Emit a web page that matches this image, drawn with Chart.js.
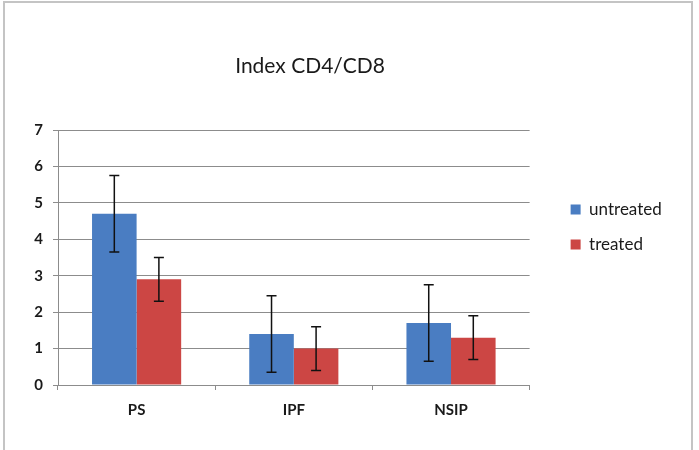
<!DOCTYPE html>
<html>
<head>
<meta charset="utf-8">
<script src="https://cdn.jsdelivr.net/npm/chart.js@4.4.1/dist/chart.umd.min.js"></script>
<style>
  body { margin: 0; background: #fff; }
  #wrap { position: relative; width: 699px; height: 450px; overflow: hidden; }
  #frame {
    position: absolute; left: 3px; top: 1px; width: 690px; height: 470px;
    box-sizing: border-box; border: 2px solid #c4c4c4; pointer-events: none;
  }
  #title {
    position: absolute; left: 0; top: 53px; width: 620px; text-align: center;
    font: 21px/24px Lato, "Open Sans", sans-serif; color: #1a1a1a;
  }
</style>
</head>
<body>
<div id="wrap">
  <canvas id="cd4cd8" width="699" height="450"></canvas>
  <div id="title">Index CD4/CD8</div>
  <div id="frame"></div>
</div>
<script>
const categories = ['PS', 'IPF', 'NSIP'];
const seriesNames = ['untreated', 'treated'];
const untreated = [4.7, 1.4, 1.7];
const untreatedErr = [1.05, 1.05, 1.05];
const treated = [2.9, 1.0, 1.3];
const treatedErr = [0.6, 0.6, 0.6];
const yMax = 7;

const fontFamily = 'Lato, "Open Sans", sans-serif';
const legendFontSize = 17;
const legendPadding = 18;

// legend width depends on the text, so work out the right padding from it
const measureCtx = document.createElement('canvas').getContext('2d');
measureCtx.font = `${legendFontSize}px ${fontFamily}`;
const legendTextWidth = Math.max(...seriesNames.map((s) => measureCtx.measureText(s).width));
const legendWidth = legendPadding + 10 + legendFontSize / 2 + legendTextWidth + 10;
const rightPad = Math.max(0, 699 - 544 - legendWidth);

// error bars drawn from the data arrays through the y scale
const errorBars = {
  id: 'errorBars',
  afterDatasetsDraw(chart) {
    const ctx = chart.ctx;
    const yScale = chart.scales.y;
    chart.data.datasets.forEach((ds, i) => {
      const meta = chart.getDatasetMeta(i);
      meta.data.forEach((bar, j) => {
        const v = ds.data[j];
        const e = ds.errors[j];
        const top = yScale.getPixelForValue(v + e);
        const bottom = yScale.getPixelForValue(v - e);
        ctx.save();
        ctx.strokeStyle = '#111';
        ctx.lineWidth = 1.5;
        ctx.beginPath();
        ctx.moveTo(bar.x, top);
        ctx.lineTo(bar.x, bottom);
        ctx.moveTo(bar.x - 5, top);
        ctx.lineTo(bar.x + 5, top);
        ctx.moveTo(bar.x - 5, bottom);
        ctx.lineTo(bar.x + 5, bottom);
        ctx.stroke();
        ctx.restore();
      });
    });
  }
};

new Chart(document.getElementById('cd4cd8'), {
  type: 'bar',
  data: {
    labels: categories,
    datasets: [
      {
        label: seriesNames[0],
        data: untreated,
        errors: untreatedErr,
        backgroundColor: '#4a7dc2',
        categoryPercentage: 0.567,
        barPercentage: 1.0,
      },
      {
        label: seriesNames[1],
        data: treated,
        errors: treatedErr,
        backgroundColor: '#cc4644',
        categoryPercentage: 0.567,
        barPercentage: 1.0,
      },
    ],
  },
  options: {
    responsive: false,
    animation: false,
    layout: { padding: { left: 0, right: rightPad, top: 130, bottom: 0 } },
    plugins: {
      tooltip: { enabled: false },
      title: { display: false },
      legend: {
        position: 'right',
        align: 'start',
        fullSize: false,
        title: { display: true, text: '', font: { size: 12, lineHeight: '53px' }, padding: 0 },
        labels: {
          boxWidth: 10,
          boxHeight: 10,
          padding: legendPadding,
          color: '#1a1a1a',
          font: { family: fontFamily, size: legendFontSize },
        },
      },
    },
    scales: {
      x: {
        grid: {
          offset: true,
          drawOnChartArea: false,
          drawTicks: true,
          tickLength: 5,
          color: '#8c8c8c',
        },
        border: { color: '#8c8c8c', width: 1 },
        ticks: {
          color: '#1a1a1a',
          padding: 11,
          font: { family: fontFamily, size: 15, weight: 'bold' },
        },
        afterFit: (s) => { s.height = 65; },
      },
      y: {
        min: 0,
        max: yMax,
        ticks: {
          stepSize: 1,
          color: '#1a1a1a',
          padding: 10,
          font: { family: fontFamily, size: 15, weight: 'bold' },
        },
        grid: { color: '#8c8c8c', tickLength: 5, lineWidth: 1 },
        border: { color: '#8c8c8c', width: 1 },
        afterFit: (s) => { s.width = 58; },
      },
      y2: {
        position: 'right',
        display: true,
        grid: { display: false },
        border: { display: false },
        ticks: { display: false },
        afterFit: (s) => { s.width = 23; },
      },
    },
  },
  plugins: [errorBars],
});
</script>
</body>
</html>
